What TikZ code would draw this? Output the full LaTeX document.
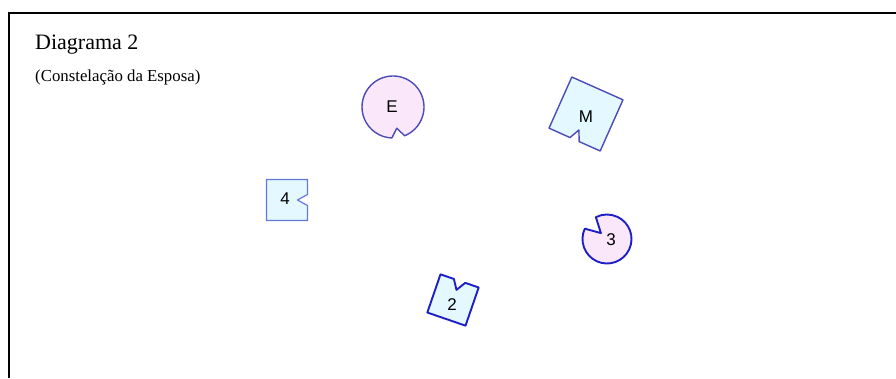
\documentclass[tikz,border=0pt]{standalone}
\usepackage{fontspec}
\setmainfont{Liberation Serif}
\newfontfamily\sansfig{Liberation Sans}

\begin{document}
\begin{tikzpicture}[x=1pt, y=1pt,
    femmina/.style={draw=bordo, fill=rosa, line width=1.4pt, line join=round},
    maschio/.style={draw=bordo, fill=azzurro, line width=1.4pt, line join=round},
    etichetta/.style={font=\sansfig\fontsize{17}{20}\selectfont, inner sep=0pt}]

    % Colori (rosa per le donne, azzurro per gli uomini)
    \definecolor{rosa}{RGB}{250,232,250}
    \definecolor{azzurro}{RGB}{228,248,255}
    \definecolor{bordo}{RGB}{75,75,185}
    \definecolor{bordoscuro}{RGB}{30,30,200}
    \definecolor{bordochiaro}{RGB}{100,120,220}

    \useasboundingbox (0,0) rectangle (896,378);

    % Cornice (solo lati sinistro e superiore)
    \draw[line width=2.4pt] (9,0) -- (9,365) -- (896,365);

    % Titolo
    \node[anchor=base west, inner sep=0pt, font=\fontsize{22}{26}\selectfont] (titolo) at (35,328) {Diagrama 2};
    \node[anchor=base west, inner sep=0pt, font=\fontsize{16.8}{20}\selectfont] (sottotitolo) at (35,296) {(Constelação da Esposa)};

    % Esposa
    \begin{scope}[shift={(393,271)}, rotate=-80]
        \draw[femmina] (12:31) arc[start angle=12, end angle=348, radius=31] -- (21.5,0) -- cycle;
    \end{scope}
    \node[etichetta] (lblE) at (392,271) {E};

    % Marito
    \begin{scope}[shift={(586,264)}, rotate=156]
        \draw[maschio] (-28,-28) -- (-28,28) -- (-5,28) -- (0,17.5) -- (5,28) -- (28,28) -- (28,-28) -- cycle;
    \end{scope}
    \node[etichetta] (lblM) at (586,261) {M};

    % Figlio 4
    \begin{scope}[shift={(287,178)}, rotate=-90]
        \draw[maschio, draw=bordochiaro, line width=1.2pt] (-20.5,-20.5) -- (-20.5,20.5) -- (-5.5,20.5) -- (0,10.5) -- (5.5,20.5) -- (20.5,20.5) -- (20.5,-20.5) -- cycle;
    \end{scope}
    \node[etichetta] (lbl4) at (285,179) {4};

    % Figlia 3
    \begin{scope}[shift={(607,139)}, rotate=136]
        \draw[femmina, draw=bordoscuro, line width=1.9pt] (19:24.5) arc[start angle=19, end angle=341, radius=24.5] -- (8.5,0) -- cycle;
    \end{scope}
    \node[etichetta] (lbl3) at (611,138) {3};

    % Figlio 2
    \begin{scope}[shift={(453,78)}, rotate=-19]
        \draw[maschio, draw=bordoscuro, line width=1.9pt] (-20.2,-20.2) -- (-20.2,20.2) -- (-6,20.2) -- (0,10.7) -- (6,20.2) -- (20.2,20.2) -- (20.2,-20.2) -- cycle;
    \end{scope}
    \node[etichetta] (lbl2) at (452,73) {2};

\end{tikzpicture}
\end{document}
